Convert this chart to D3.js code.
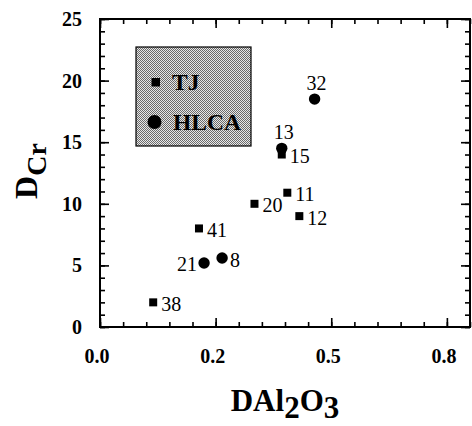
<!DOCTYPE html>
<html>
<head>
<meta charset="utf-8">
<script src="https://cdn.jsdelivr.net/npm/d3@7"></script>
<style>
  html, body { margin: 0; padding: 0; background: #fff; }
  svg { display: block; font-family: "Liberation Serif", "Times New Roman", serif; }
</style>
</head>
<body>
<svg id="chart" width="472" height="426"></svg>
<script>
// ---- data ----
const tjLabels = ["38", "41", "20", "12", "11", "15"];
const tjX = [0.115, 0.214, 0.334, 0.431, 0.405, 0.393];
const tjY = [2.0, 8.0, 10.0, 9.0, 10.9, 14.0];

const hlcaLabels = ["21", "8", "13", "32"];
const hlcaX = [0.225, 0.264, 0.393, 0.464];
const hlcaY = [5.2, 5.6, 14.5, 18.5];

const xTickValues = [0, 0.25, 0.5, 0.75];
const xTickLabels = ["0.0", "0.2", "0.5", "0.8"];
const yTickValues = [0, 5, 10, 15, 20, 25];
const yTickLabels = ["0", "5", "10", "15", "20", "25"];

const legendNames = ["TJ", "HLCA"];

// label placement (styling, not data)
const labelSide = { "21": "left", "13": "top", "32": "top" };

// ---- layout ----
const svg = d3.select("#chart");
const L = 100, R = 470, T = 19, B = 327;
const x = d3.scaleLinear().domain([0, 0.8]).range([L, R]);
const y = d3.scaleLinear().domain([0, 25]).range([B, T]);

const minorX = d3.range(0, 0.8001, 0.05);
const minorY = d3.range(0, 25.001, 1);

function addAxis(axisGen, transform) {
  const g = svg.append("g").attr("transform", transform).call(axisGen);
  g.select(".domain").remove();
  g.selectAll("line").attr("stroke", "#000").attr("stroke-width", 1.6);
  g.selectAll("text").remove();
  return g;
}
const MAJ = 9, MIN = 5;
// bottom
addAxis(d3.axisBottom(x).tickValues(minorX).tickSize(-MIN).tickFormat(""), `translate(0,${B})`);
addAxis(d3.axisBottom(x).tickValues(xTickValues).tickSize(-MAJ).tickFormat(""), `translate(0,${B})`);
// top
addAxis(d3.axisTop(x).tickValues(minorX).tickSize(-MIN).tickFormat(""), `translate(0,${T})`);
addAxis(d3.axisTop(x).tickValues(xTickValues).tickSize(-MAJ).tickFormat(""), `translate(0,${T})`);
// left
addAxis(d3.axisLeft(y).tickValues(minorY).tickSize(-MIN).tickFormat(""), `translate(${L},0)`);
addAxis(d3.axisLeft(y).tickValues(yTickValues).tickSize(-MAJ).tickFormat(""), `translate(${L},0)`);
// right
addAxis(d3.axisRight(y).tickValues(minorY).tickSize(-MIN).tickFormat(""), `translate(${R},0)`);
addAxis(d3.axisRight(y).tickValues(yTickValues).tickSize(-MAJ).tickFormat(""), `translate(${R},0)`);

// frame
svg.append("rect").attr("x", L).attr("y", T).attr("width", R - L).attr("height", B - T)
  .attr("fill", "none").attr("stroke", "#000").attr("stroke-width", 2);

// tick labels
svg.append("g").selectAll("text").data(xTickValues).join("text")
  .attr("x", d => x(d) - 3).attr("y", 363)
  .attr("text-anchor", "middle").attr("font-weight", "bold").attr("font-size", 20)
  .text((d, i) => xTickLabels[i]);
svg.append("g").selectAll("text").data(yTickValues).join("text")
  .attr("x", 82).attr("y", d => y(d) + 7)
  .attr("text-anchor", "end").attr("font-weight", "bold").attr("font-size", 20)
  .text((d, i) => yTickLabels[i]);

// axis titles
const xt = svg.append("text").attr("x", 285).attr("y", 411)
  .attr("text-anchor", "middle").attr("font-weight", "bold").attr("font-size", 31);
xt.append("tspan").text("DAl");
xt.append("tspan").attr("dy", 7).text("2");
xt.append("tspan").attr("dy", -7).text("O");
xt.append("tspan").attr("dy", 7).text("3");

const yt = svg.append("text").attr("transform", "translate(37,171) rotate(-90)")
  .attr("text-anchor", "middle").attr("font-weight", "bold");
yt.append("tspan").attr("font-size", 32).text("D");
yt.append("tspan").attr("font-size", 28).attr("dy", 9).text("Cr");

// legend
const defs = svg.append("defs");
const pat = defs.append("pattern").attr("id", "stip").attr("width", 2).attr("height", 2)
  .attr("patternUnits", "userSpaceOnUse");
pat.append("rect").attr("width", 2).attr("height", 2).attr("fill", "#e8e8e8");
pat.append("rect").attr("width", 1).attr("height", 1).attr("fill", "#6a6a6a");
pat.append("rect").attr("x", 1).attr("y", 1).attr("width", 1).attr("height", 1).attr("fill", "#6a6a6a");

svg.append("rect").attr("x", 136).attr("y", 47).attr("width", 115).attr("height", 99)
  .attr("fill", "url(#stip)").attr("stroke", "#000").attr("stroke-width", 1.2);
svg.append("rect").attr("x", 151.5).attr("y", 78).attr("width", 8.5).attr("height", 8.5).attr("fill", "#000");
svg.append("circle").attr("cx", 154.5).attr("cy", 122).attr("r", 7).attr("fill", "#000");
svg.append("text").attr("x", 172).attr("y", 90).attr("font-weight", "bold").attr("font-size", 23.5).text(legendNames[0]);
svg.append("text").attr("x", 173).attr("y", 130).attr("font-weight", "bold").attr("font-size", 23.5).text(legendNames[1]);

// marks
const tj = tjX.map((v, i) => ({ x: v, y: tjY[i], label: tjLabels[i] }));
const hl = hlcaX.map((v, i) => ({ x: v, y: hlcaY[i], label: hlcaLabels[i] }));

svg.append("g").selectAll("rect").data(tj).join("rect")
  .attr("x", d => x(d.x) - 4).attr("y", d => y(d.y) - 4)
  .attr("width", 8).attr("height", 8).attr("fill", "#000");
svg.append("g").selectAll("circle").data(hl).join("circle")
  .attr("cx", d => x(d.x)).attr("cy", d => y(d.y)).attr("r", 5.7).attr("fill", "#000");

function placeLabel(sel) {
  sel.attr("font-size", 20)
    .attr("x", d => {
      const s = labelSide[d.label] || "right";
      return x(d.x) + (s === "right" ? 8 : s === "left" ? -7 : 2);
    })
    .attr("y", d => {
      const s = labelSide[d.label] || "right";
      return y(d.y) + (s === "top" ? -9 : 8.5);
    })
    .attr("text-anchor", d => {
      const s = labelSide[d.label] || "right";
      return s === "right" ? "start" : s === "left" ? "end" : "middle";
    })
    .text(d => d.label);
}
svg.append("g").selectAll("text").data(tj.concat(hl)).join("text").call(placeLabel);
</script>
</body>
</html>
